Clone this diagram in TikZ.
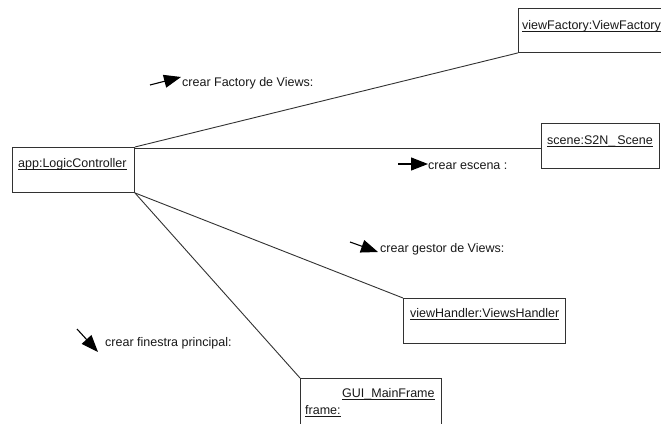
\documentclass[tikz,border=0pt]{standalone}
\usepackage{fontspec}
\setmainfont{Liberation Sans}
\usetikzlibrary{arrows.meta}

% object name with a flat underline just under the baseline
\newcommand\objname[1]{\setbox0\hbox{#1}\rlap{\rule[-2.5pt]{\wd0}{0.7pt}}\box0}

\definecolor{ink}{RGB}{25,25,25}
\definecolor{edge}{RGB}{50,50,50}

\begin{document}
\begin{tikzpicture}[x=1pt,y=-1pt,
  objbox/.style={draw=edge, line width=0.9pt, anchor=north west, inner sep=0pt, fill=white},
  objlabel/.style={anchor=base west, inner sep=0pt, text=ink, font=\fontsize{12.5}{14}\selectfont},
  msglabel/.style={anchor=base west, inner sep=0pt, text=ink, font=\fontsize{12.5}{14}\selectfont},
  link/.style={draw=edge, line width=0.9pt},
  msgarrow/.style={draw=black, line width=1.1pt, -{Triangle[length=17pt,width=13pt]}}]
\useasboundingbox (0,0) rectangle (661,423);
\clip (0,0) rectangle (661,423);
\fill[white] (0,0) rectangle (661,423);

% objects
\node[objbox, minimum width=122pt, minimum height=45pt] (app) at (12,147) {};
\node[objbox, minimum width=160pt, minimum height=44pt] (vf) at (518,8) {};
\node[objbox, minimum width=118pt, minimum height=45pt] (scene) at (541,123) {};
\node[objbox, minimum width=162pt, minimum height=45pt] (vh) at (403,298) {};
\node[objbox, minimum width=141pt, minimum height=60pt] (frame) at (300,378) {};

% links between objects
\draw[link] (app.north east) -- (vf.south west);
\draw[link] (app.east |- 0,148) coordinate (a2) -- (scene.west |- a2);
\draw[link] (app.south east) -- (vh.north west);
\draw[link] (app.south east) -- (frame.north west);

% object names
\node[objlabel] (appname) at (18,167.5) {\objname{app:LogicController}};
\node[objlabel] (vfname) at (522,29.5) {\objname{viewFactory:ViewFactory}};
\node[objlabel] (scenename) at (547,144.5) {\objname{scene:S2N\_\,Scene}};
\node[objlabel] (vhname) at (410,317.5) {\objname{viewHandler:ViewsHandler}};
\node[objlabel] (framename) at (305,414) {\objname{frame:}};
\node[objlabel] (frametype) at (342,397.5) {\objname{GUI\_MainFrame}};

% messages
\coordinate (m1a) at (150,85);
\coordinate (m1b) at (181,77);
\draw[msgarrow] (m1a) -- (m1b);
\node[msglabel] (m1) at (182,86.5) {crear Factory de Views:};

\coordinate (m2a) at (398,164);
\coordinate (m2b) at (428,164);
\draw[msgarrow] (m2a) -- (m2b);
\node[msglabel] (m2) at (428,169.5) {crear escena :};

\coordinate (m3a) at (350,242);
\coordinate (m3b) at (378,252);
\draw[msgarrow] (m3a) -- (m3b);
\node[msglabel] (m3) at (380,252.5) {crear gestor de Views:};

\coordinate (m4a) at (77,329);
\coordinate (m4b) at (98,352);
\draw[msgarrow] (m4a) -- (m4b);
\node[msglabel] (m4) at (105,346.5) {crear finestra principal:};
\end{tikzpicture}
\end{document}
